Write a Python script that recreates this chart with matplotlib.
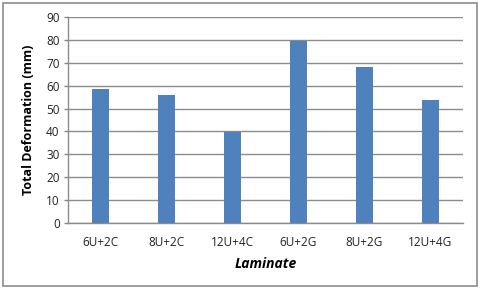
import matplotlib.pyplot as plt
from matplotlib.patches import Rectangle

laminates = ['6U+2C', '8U+2C', '12U+4C', '6U+2G', '8U+2G', '12U+4G']
deformation = [58.4, 56.0, 39.9, 79.5, 68.0, 53.7]

plt.rcParams['font.family'] = ['Open Sans', 'DejaVu Sans']

fig = plt.figure(figsize=(4.8, 2.89), dpi=100)
ax = fig.add_axes([68 / 480, 1 - 223 / 289, 395 / 480, 206 / 289])

x = range(len(laminates))
ax.bar(x, deformation, width=0.26, color='#4f81bd', zorder=3)

ax.set_xlim(-0.5, len(laminates) - 0.5)
ax.set_ylim(0, 90)
ax.set_yticks(range(0, 91, 10))
ax.set_xticks(list(x))
ax.set_xticklabels(laminates)
ax.tick_params(axis='x', length=0, pad=9, labelsize=8.5, colors='#222222')
ax.tick_params(axis='y', length=3, width=1, color='#888888', pad=3, labelsize=8.5, labelcolor='#222222')
ax.grid(axis='y', color='#8c8c8c', linewidth=1, zorder=0)

for s in ['top', 'right']:
    ax.spines[s].set_visible(False)
for s in ['left', 'bottom']:
    ax.spines[s].set_color('#8c8c8c')
    ax.spines[s].set_linewidth(1)

ax.set_ylabel('Total Deformation (mm)', fontsize=9, fontweight='bold', labelpad=8)
ax.set_xlabel('Laminate', fontsize=10, fontweight='bold', style='italic', labelpad=6)

fig.patches.append(Rectangle((3 / 480, 3 / 289), 474 / 480, 283 / 289, transform=fig.transFigure,
                             fill=False, edgecolor='#8c8c8c', linewidth=1.2))

fig.savefig('out.png', dpi=100)
